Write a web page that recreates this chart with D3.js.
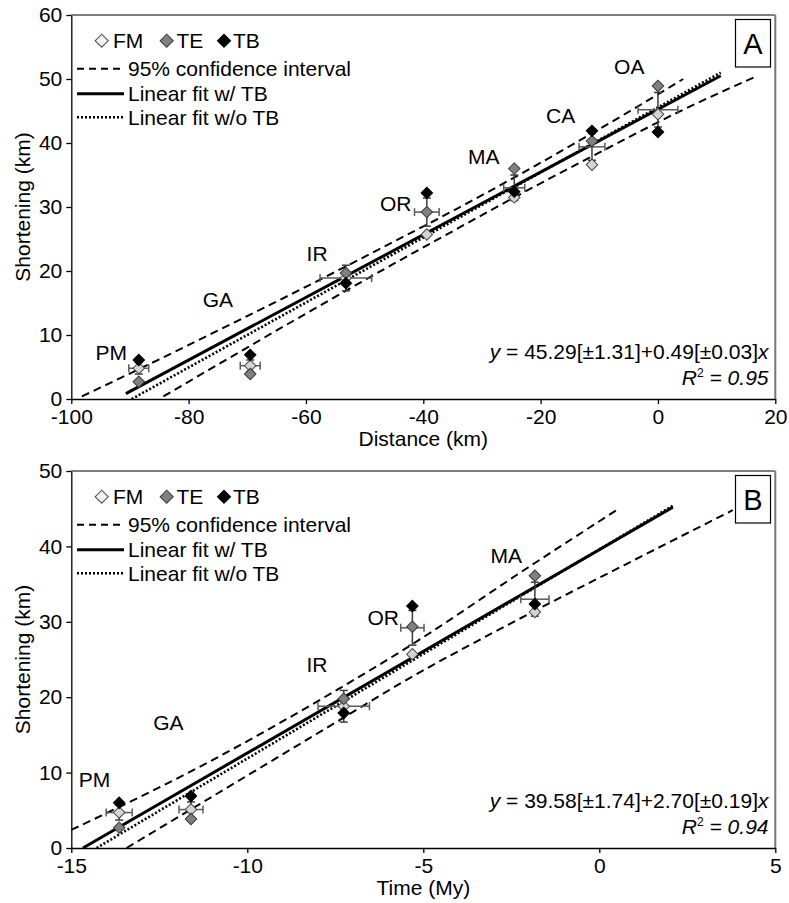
<!DOCTYPE html>
<html lang="en">
<head>
<meta charset="UTF-8">
<title>Shortening vs distance and time</title>
<script src="https://d3js.org/d3.v7.min.js"></script>
<style>
  body { margin: 0; background: #fff; }
  svg text { font-family: "Liberation Sans", Arial, sans-serif; fill: #000; }
  .axis path, .axis line { stroke: #000; stroke-width: 1.3; }
  .axis text { font-size: 21px; }
</style>
</head>
<body>
<div id="chart"></div>
<script>
// ---- panel A : shortening vs distance ----
const groupsA = ["PM", "GA", "IR", "OR", "MA", "CA", "OA"];
const distA  = [-88.5, -69.5, -53.2, -39.4, -24.5, -11.25, 0];
const fmA    = [4.8, 5.2, 18.9, 25.7, 31.5, 36.6, 44.5];
const teA    = [2.7, 3.9, 19.7, 29.2, 36.0, 40.3, 48.9];
const tbA    = [6.1, 6.9, 18.1, 32.2, 32.4, 41.9, 41.7];
const barYA  = [4.8, 5.2, 18.9, 29.2, 33.0, 39.4, 45.2];
const xErrA  = [1.7, 1.7, 4.4, 2.1, 1.8, 2.2, 3.4];
const yErrA  = [0.9, 0.9, 2.0, 2.2, 2.0, 2.1, 2.7];
const labelXA = [-93.2, -75.0, -58.1, -44.7, -29.7, -16.6, -4.9];
const labelYA = [6.1, 14.3, 21.6, 29.4, 36.7, 43.1, 50.8];
const fitA    = [[-90.7, 0.85], [10.7, 50.5]];
const fitNoTbA = [[-89.7, 0.0], [10.7, 51.0]];
const ciUpA  = [[-98.2, 0.4], [-85, 6.2], [-72, 12.05], [-59, 18.0], [-45, 24.6], [-37, 28.4], [-21, 36.4], [-4.2, 45.3], [4.3, 50.0]];
const ciLoA  = [[-84.3, 0.4], [-70.1, 8.0], [-58.75, 14.0], [-45.1, 21.1], [-37.2, 25.1], [-21.25, 33.1], [-8.75, 39.1], [4.3, 45.2], [16.5, 50.3]];
const xTicksA = [-100, -80, -60, -40, -20, 0, 20];
const yTicksA = [0, 10, 20, 30, 40, 50, 60];

// ---- panel B : shortening vs time ----
const groupsB = ["PM", "GA", "IR", "OR", "MA"];
const timeB  = [-13.64, -11.6, -7.26, -5.31, -1.83];
const fmB    = [4.7, 5.1, 18.8, 25.7, 31.3];
const teB    = [2.7, 3.85, 19.8, 29.35, 36.1];
const tbB    = [6.0, 6.9, 17.9, 32.1, 32.35];
const barYB  = [4.7, 5.1, 18.8, 29.2, 33.0];
const xErrB  = [0.37, 0.34, 0.73, 0.33, 0.4];
const yErrB  = [1.0, 1.0, 2.1, 2.3, 2.25];
const labelXB = [-14.34, -12.24, -8.02, -6.14, -2.64];
const labelYB = [8.1, 15.6, 23.4, 29.6, 37.8];
const fitB    = [[-14.67, 0.0], [2.09, 45.2]];
const fitNoTbB = [[-14.28, 0.0], [2.09, 45.4]];
const ciUpB  = [[-15, 2.4], [-11.26, 11.0], [-7.26, 21.5], [-5.66, 26.0], [-1.83, 37.8], [0.57, 45.05]];
const ciLoB  = [[-13.43, 0.0], [-7.26, 17.3], [-5.66, 21.8], [-2.35, 30.2], [0.7, 37.5], [3.79, 44.8]];
const xTicksB = [-15, -10, -5, 0, 5];
const yTicksB = [0, 10, 20, 30, 40, 50];

const series = ["FM", "TE", "TB"];
const seriesFill = { FM: "#d4d4d4", TE: "#808080", TB: "#000000" };
const seriesStroke = { FM: "#4a4a4a", TE: "#3a3a3a", TB: "#000000" };

const svg = d3.select("#chart").append("svg")
    .attr("width", 789)
    .attr("height", 903);

const plotLeft = 71.3, plotRight = 775.3;
const plainNum = d => String(d);   // hyphen minus like the original, not U+2212

function drawPanel(p) {
    const x = d3.scaleLinear().domain(p.xDomain).range([plotLeft, plotRight]);
    const y = d3.scaleLinear().domain(p.yDomain).range([p.bottom, p.top]);
    const g = svg.append("g");

    // frame (top + right)
    g.append("line").attr("x1", plotLeft).attr("x2", plotRight)
        .attr("y1", p.top).attr("y2", p.top).attr("stroke", "#000").attr("stroke-width", 1.2);
    g.append("line").attr("x1", plotRight).attr("x2", plotRight)
        .attr("y1", p.top).attr("y2", p.bottom).attr("stroke", "#777").attr("stroke-width", 2);

    // axes
    g.append("g").attr("class", "axis")
        .attr("transform", `translate(0,${p.bottom})`)
        .call(d3.axisBottom(x).tickValues(p.xTicks).tickSize(5).tickSizeOuter(0).tickPadding(5).tickFormat(plainNum));
    g.append("g").attr("class", "axis")
        .attr("transform", `translate(${plotLeft},0)`)
        .call(d3.axisLeft(y).tickValues(p.yTicks).tickSize(5).tickSizeOuter(0).tickPadding(4).tickFormat(plainNum));

    g.append("text")
        .attr("x", (plotLeft + plotRight) / 2)
        .attr("y", p.bottom + 47)
        .attr("text-anchor", "middle")
        .style("font-size", "21px")
        .text(p.xTitle);
    g.append("text")
        .attr("transform", `translate(30,${(p.top + p.bottom) / 2}) rotate(-90)`)
        .attr("text-anchor", "middle")
        .style("font-size", "21px")
        .text("Shortening (km)");

    // fit lines
    const line = d3.line().x(d => x(d[0])).y(d => y(d[1]));
    const curve = d3.line().x(d => x(d[0])).y(d => y(d[1])).curve(d3.curveMonotoneX);
    [p.ciUp, p.ciLo].forEach(c => {
        g.append("path").attr("d", curve(c)).attr("fill", "none")
            .attr("stroke", "#000").attr("stroke-width", 2).attr("stroke-dasharray", "8,5");
    });
    g.append("path").attr("d", line(p.fitNoTb)).attr("fill", "none")
        .attr("stroke", "#000").attr("stroke-width", 2.6).attr("stroke-dasharray", "2,2");
    g.append("path").attr("d", line(p.fit)).attr("fill", "none")
        .attr("stroke", "#000").attr("stroke-width", 3);

    // error bars
    const cap = 4;
    p.xs.forEach((xv, i) => {
        const cx = x(xv), cy = y(p.barY[i]);
        const x0 = x(xv - p.xErr[i]), x1 = x(xv + p.xErr[i]);
        const y0 = y(p.barY[i] - p.yErr[i]), y1 = y(p.barY[i] + p.yErr[i]);
        const eb = g.append("g").attr("stroke", "#3c3c3c").attr("stroke-width", 1.5);
        eb.append("line").attr("x1", x0).attr("x2", x1).attr("y1", cy).attr("y2", cy).attr("stroke", "#5a5a5a");
        eb.append("line").attr("x1", x0).attr("x2", x0).attr("y1", cy - cap).attr("y2", cy + cap).attr("stroke", "#5a5a5a");
        eb.append("line").attr("x1", x1).attr("x2", x1).attr("y1", cy - cap).attr("y2", cy + cap).attr("stroke", "#5a5a5a");
        eb.append("line").attr("x1", cx).attr("x2", cx).attr("y1", y0).attr("y2", y1);
        eb.append("line").attr("x1", cx - cap).attr("x2", cx + cap).attr("y1", y0).attr("y2", y0);
        eb.append("line").attr("x1", cx - cap).attr("x2", cx + cap).attr("y1", y1).attr("y2", y1);
    });

    // markers
    const diamond = d3.symbol().type(d3.symbolSquare).size(66);
    const vals = { FM: p.fm, TE: p.te, TB: p.tb };
    series.forEach(s => {
        g.selectAll(null).data(p.xs).enter().append("path")
            .attr("d", diamond)
            .attr("transform", (d, i) => `translate(${x(d)},${y(vals[s][i])}) rotate(45)`)
            .attr("fill", seriesFill[s])
            .attr("stroke", seriesStroke[s])
            .attr("stroke-width", 1);
    });

    // group labels
    g.selectAll(null).data(p.groups).enter().append("text")
        .attr("x", (d, i) => x(p.labelX[i]))
        .attr("y", (d, i) => y(p.labelY[i]))
        .attr("text-anchor", "middle")
        .style("font-size", "21px")
        .text(d => d);

    // legend
    const ly = p.top;
    const big = d3.symbol().type(d3.symbolSquare).size(86);
    [["FM", 101.7, 113], ["TE", 166.7, 176.5], ["TB", 224, 233]].forEach(([s, mx, tx]) => {
        g.append("path").attr("d", big)
            .attr("transform", `translate(${mx},${ly + 25.7}) rotate(45)`)
            .attr("fill", s === "FM" ? "#f0f0f0" : seriesFill[s])
            .attr("stroke", seriesStroke[s]).attr("stroke-width", 1);
        g.append("text").attr("x", tx).attr("y", ly + 32.5).style("font-size", "21px").text(s);
    });
    const legLines = [
        ["95% confidence interval", 53.8, "7,5", 2],
        ["Linear fit w/ TB", 78.8, null, 3],
        ["Linear fit w/o TB", 102.3, "2,2", 2.6]
    ];
    legLines.forEach(([label, off, dash, w]) => {
        const l = g.append("line").attr("x1", 77).attr("x2", 124)
            .attr("y1", ly + off).attr("y2", ly + off)
            .attr("stroke", "#000").attr("stroke-width", w);
        if (dash) l.attr("stroke-dasharray", dash);
        g.append("text").attr("x", 128).attr("y", ly + off + 7.5).style("font-size", "21px").text(label);
    });

    // panel letter
    g.append("rect").attr("x", 735.5).attr("y", p.top + 4.5).attr("width", 35).attr("height", 47.5)
        .attr("fill", "#fff").attr("stroke", "#000").attr("stroke-width", 1.2);
    g.append("text").attr("x", 753).attr("y", p.top + 39).attr("text-anchor", "middle")
        .style("font-size", "29px").text(p.letter);

    // equation
    const eq = g.append("text").attr("x", 768.5).attr("y", p.bottom - 40)
        .attr("text-anchor", "end").style("font-size", "21px");
    eq.append("tspan").style("font-style", "italic").text("y");
    eq.append("tspan").text(p.eq);
    eq.append("tspan").style("font-style", "italic").text("x");
    const r2 = g.append("text").attr("x", 768.5).attr("y", p.bottom - 14)
        .attr("text-anchor", "end").style("font-size", "21px").style("font-style", "italic");
    r2.append("tspan").text("R");
    r2.append("tspan").style("font-size", "12px").style("font-style", "normal").attr("dy", -8).text("2");
    r2.append("tspan").attr("dy", 8).text(" = " + p.r2);
}

drawPanel({
    top: 15, bottom: 399, xDomain: [-100, 20], yDomain: [0, 60],
    xTicks: xTicksA, yTicks: yTicksA, xTitle: "Distance (km)", letter: "A",
    xs: distA, fm: fmA, te: teA, tb: tbA, barY: barYA, xErr: xErrA, yErr: yErrA,
    groups: groupsA, labelX: labelXA, labelY: labelYA,
    fit: fitA, fitNoTb: fitNoTbA, ciUp: ciUpA, ciLo: ciLoA,
    eq: " = 45.29[±1.31]+0.49[±0.03]", r2: "0.95"
});

drawPanel({
    top: 471, bottom: 848, xDomain: [-15, 5], yDomain: [0, 50],
    xTicks: xTicksB, yTicks: yTicksB, xTitle: "Time (My)", letter: "B",
    xs: timeB, fm: fmB, te: teB, tb: tbB, barY: barYB, xErr: xErrB, yErr: yErrB,
    groups: groupsB, labelX: labelXB, labelY: labelYB,
    fit: fitB, fitNoTb: fitNoTbB, ciUp: ciUpB, ciLo: ciLoB,
    eq: " = 39.58[±1.74]+2.70[±0.19]", r2: "0.94"
});
</script>
</body>
</html>
